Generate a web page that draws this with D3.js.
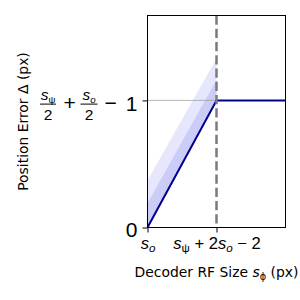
<!DOCTYPE html>
<html>
<head>
<meta charset="utf-8">
<script src="https://cdn.jsdelivr.net/npm/d3@7"></script>
<style>
  body { margin: 0; background: white; }
  svg { display: block; font-family: 'DejaVu Sans', sans-serif; }
</style>
</head>
<body>
<div id="chart-area"></div>
<script>
// Data
const lineX = [0, 1, 2];
const lineY = [0, 1, 1];
const bandX = [0, 1];
const bandLower = [0, 1];
const lightUpper = [0.37, 1.33];
const darkUpper = [0.19, 1.16];
const refLevel = 1;
const dashX = 1;
const xTicks = [0, 1];
const yTicks = [0, 1];

const width = 300;
const height = 300;
const plot = { left: 147.5, right: 285.5, top: 15.5, bottom: 227.5 };

const svg = d3.select('#chart-area')
    .append('svg')
    .attr('width', width)
    .attr('height', height);

// Scales
const x = d3.scaleLinear()
    .domain([0, 2])
    .range([plot.left, plot.right]);

const y = d3.scaleLinear()
    .domain([0, 1.668])
    .range([plot.bottom, plot.top]);

svg.append('clipPath')
    .attr('id', 'clip')
    .append('rect')
    .attr('x', plot.left)
    .attr('y', plot.top)
    .attr('width', plot.right - plot.left)
    .attr('height', plot.bottom - plot.top);

const chart = svg.append('g').attr('clip-path', 'url(#clip)');

// Bands
const band = (upper) => d3.area()
    .x((d, i) => x(bandX[i]))
    .y0((d, i) => y(bandLower[i]))
    .y1((d, i) => y(upper[i]))(bandX);

chart.append('path')
    .attr('d', band(lightUpper))
    .attr('fill', '#e6e6fc');

chart.append('path')
    .attr('d', band(darkUpper))
    .attr('fill', '#ccccf8');

// reference level
chart.append('line')
    .attr('x1', x(0))
    .attr('x2', x(dashX))
    .attr('y1', y(refLevel))
    .attr('y2', y(refLevel))
    .attr('stroke', '#999')
    .attr('stroke-opacity', 0.7)
    .attr('stroke-width', 1);

// main line
chart.append('path')
    .datum(lineX)
    .attr('d', d3.line()
        .x((d) => x(d))
        .y((d, i) => y(lineY[i])))
    .attr('fill', 'none')
    .attr('stroke', '#00008b')
    .attr('stroke-width', 2);

// dashed vertical
chart.append('line')
    .attr('x1', x(dashX))
    .attr('x2', x(dashX))
    .attr('y1', plot.top)
    .attr('y2', plot.bottom)
    .attr('stroke', '#7a7a7a')
    .attr('stroke-width', 2.5)
    .attr('stroke-dasharray', '9.25,4');

// Spines
svg.append('rect')
    .attr('x', plot.left)
    .attr('y', plot.top)
    .attr('width', plot.right - plot.left)
    .attr('height', plot.bottom - plot.top)
    .attr('fill', 'none')
    .attr('stroke', 'black')
    .attr('stroke-width', 1);

// Axes
const xAxisGroup = svg.append('g')
    .attr('transform', `translate(0, ${plot.bottom})`)
    .call(d3.axisBottom(x).tickValues(xTicks).tickSize(5).tickFormat(() => ''));

const yAxisGroup = svg.append('g')
    .attr('transform', `translate(${plot.left}, 0)`)
    .call(d3.axisLeft(y).tickValues(yTicks).tickSize(5).tickFormat(() => ''));

svg.selectAll('.domain').remove();
svg.selectAll('.tick line').attr('stroke', 'black');

// helper: add tspans (text, italic, sub) to a text element
function addParts(text, parts, size) {
    let shifted = false;
    parts.forEach(([str, italic, sub]) => {
        const t = text.append('tspan').text(str);
        if (italic) t.attr('font-style', 'italic');
        if (sub && !shifted) { t.attr('dy', size * 0.2); shifted = true; }
        if (!sub && shifted) { t.attr('dy', -size * 0.2); shifted = false; }
        if (sub) t.attr('font-size', size * 0.7);
    });
}

// x tick labels
const xTickParts = [
    [['s', true, false], ['o', true, true]],
    [['s', true, false], ['ψ', false, true], [' + 2', false, false], ['s', true, false], ['o', true, true], [' − 2', false, false]]
];
xAxisGroup.selectAll('.tick').each(function (d, i) {
    const t = d3.select(this).append('text')
        .attr('y', 21)
        .attr('fill', 'black')
        .attr('font-size', 16.6)
        .attr('text-anchor', 'middle');
    addParts(t, xTickParts[i], 16.6);
});

// y tick labels
const big = 21;
const small = 15.5;
yAxisGroup.selectAll('.tick').each(function (d, i) {
    const g = d3.select(this);
    if (i === 0) {
        g.append('text')
            .attr('x', -10)
            .attr('y', 8.5)
            .attr('fill', 'black')
            .attr('font-size', big)
            .attr('text-anchor', 'end')
            .text('0');
        return;
    }
    const off = 2;
    g.append('text')
        .attr('x', -10).attr('y', 8.5 + off)
        .attr('fill', 'black').attr('font-size', big)
        .attr('text-anchor', 'end').text('1');
    g.append('text')
        .attr('x', -37).attr('y', 7.5 + off)
        .attr('fill', 'black').attr('font-size', big)
        .attr('text-anchor', 'middle').text('−');
    g.append('text')
        .attr('x', -78).attr('y', 7.5 + off)
        .attr('fill', 'black').attr('font-size', big)
        .attr('text-anchor', 'middle').text('+');
    const fracs = [
        { cx: -99.5, half: 8, sub: 'ψ', subItalic: false },
        { cx: -58.5, half: 8.5, sub: 'o', subItalic: true }
    ];
    fracs.forEach((f) => {
        g.append('line')
            .attr('x1', f.cx - f.half).attr('x2', f.cx + f.half)
            .attr('y1', 1.2 + off).attr('y2', 1.2 + off)
            .attr('stroke', 'black').attr('stroke-width', 1);
        const num = g.append('text')
            .attr('x', f.cx).attr('y', -3 + off)
            .attr('fill', 'black').attr('font-size', small)
            .attr('text-anchor', 'middle');
        addParts(num, [['s', true, false], [f.sub, f.subItalic, true]], small * 0.9);
        g.append('text')
            .attr('x', f.cx).attr('y', 17 + off)
            .attr('fill', 'black').attr('font-size', small)
            .attr('text-anchor', 'middle').text('2');
    });
});

// Axis labels
const xLabel = svg.append('text')
    .attr('x', (plot.left + plot.right) / 2)
    .attr('y', 277)
    .attr('font-size', 13.9)
    .attr('text-anchor', 'middle');
addParts(xLabel, [['Decoder RF Size ', false, false], ['s', true, false], ['ϕ', false, true], [' (px)', false, false]], 13.9);

svg.append('text')
    .attr('transform', `translate(27.5, ${(plot.top + plot.bottom) / 2}) rotate(-90)`)
    .attr('font-size', 13.9)
    .attr('text-anchor', 'middle')
    .text('Position Error Δ (px)');
</script>
</body>
</html>
